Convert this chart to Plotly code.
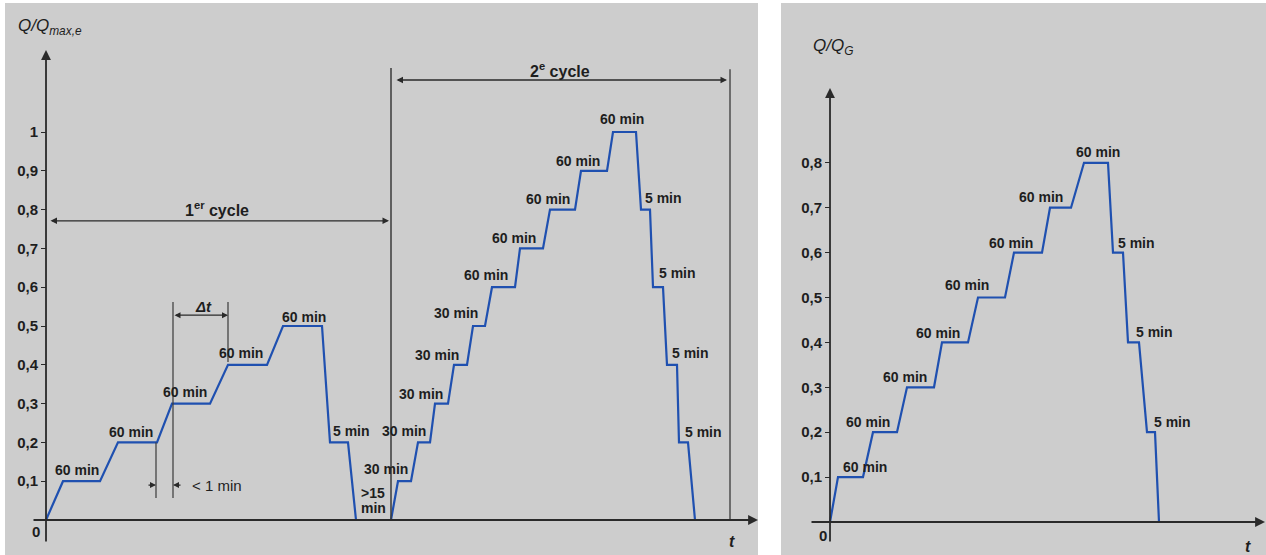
import plotly.graph_objects as go

W, H = 1266, 555
FONT = "Liberation Sans"
TXT = "#1e1e1e"
LINE = "#2a2a2a"
BLUE = "#1f50b0"
BG = "#cdcdcd"

# ---------------- data (schematic time units) ----------------
# left diagram : Q/Qmax,e
c1_t = [0, 17, 54, 72, 111, 126, 164, 182, 221, 237, 276, 284, 302, 310, 345]
c1_q = [0, 0.1, 0.1, 0.2, 0.2, 0.3, 0.3, 0.4, 0.4, 0.5, 0.5, 0.2, 0.2, 0, 0]
c2_t = [345, 352, 365, 372, 384, 389, 402, 408, 421, 427, 439, 446, 469, 474, 497,
        504, 529, 535, 561, 567, 590, 595, 604, 607, 617, 621, 631, 633, 642, 649]
c2_q = [0, 0.1, 0.1, 0.2, 0.2, 0.3, 0.3, 0.4, 0.4, 0.5, 0.5, 0.6, 0.6, 0.7, 0.7,
        0.8, 0.8, 0.9, 0.9, 1.0, 1.0, 0.8, 0.8, 0.6, 0.6, 0.4, 0.4, 0.2, 0.2, 0]
left_ticks = [0.1, 0.2, 0.3, 0.4, 0.5, 0.6, 0.7, 0.8, 0.9, 1.0]
left_ticktext = ["0,1", "0,2", "0,3", "0,4", "0,5", "0,6", "0,7", "0,8", "0,9", "1"]

left_lbl_text = ["60 min", "60 min", "60 min", "60 min", "60 min", "5 min", "30 min",
                 "30 min", "30 min", "30 min", "30 min", "60 min", "60 min", "60 min",
                 "60 min", "60 min", "5 min", "5 min", "5 min", "5 min", ">15", "min"]
left_lbl_t = [31, 85, 139, 195, 258, 305, 340, 358, 375, 391, 410, 440, 468, 502, 532,
              576, 617, 631, 644, 657, 327, 327]
left_lbl_q = [0.129, 0.227, 0.330, 0.430, 0.523, 0.230, 0.131, 0.230, 0.325, 0.425,
              0.533, 0.631, 0.727, 0.827, 0.925, 1.034, 0.830, 0.637, 0.430, 0.227,
              0.070, 0.031]

# right diagram : Q/QG
r_t = [0, 8, 33, 43, 67, 77, 104, 112, 138, 148, 175, 184, 212, 220, 241, 254, 278,
       283, 293, 298, 309, 317, 325, 329]
r_q = [0, 0.1, 0.1, 0.2, 0.2, 0.3, 0.3, 0.4, 0.4, 0.5, 0.5, 0.6, 0.6, 0.7, 0.7, 0.8,
       0.8, 0.6, 0.6, 0.4, 0.4, 0.2, 0.2, 0]
right_ticks = [0.1, 0.2, 0.3, 0.4, 0.5, 0.6, 0.7, 0.8]
right_ticktext = ["0,1", "0,2", "0,3", "0,4", "0,5", "0,6", "0,7", "0,8"]
right_lbl_text = ["60 min"] * 8 + ["5 min"] * 3
right_lbl_t = [35, 38, 75, 108, 137, 181, 211, 268, 306, 324, 342]
right_lbl_q = [0.122, 0.223, 0.323, 0.421, 0.528, 0.622, 0.724, 0.824, 0.622, 0.423, 0.223]

# axis geometry (pixels -> domains)
LX0, LX1, LORG = 32, 758, 46
LY0_PX, LY1_PX, LZERO, LUNIT = 543, 50, 520, 388.0
RX0, RX1, RORG = 810, 1266, 830
RY0_PX, RY1_PX, RZERO, RUNIT = 543, 88, 522, 449.0

l_yrange = [-(LY0_PX - LZERO) / LUNIT, (LZERO - LY1_PX) / LUNIT]
r_yrange = [-(RY0_PX - RZERO) / RUNIT, (RZERO - RY1_PX) / RUNIT]
l_xrange = [LX0 - LORG, LX1 - LORG]
r_xrange = [RX0 - RORG, RX1 - RORG]

fig = go.Figure()
fig.add_trace(go.Scatter(x=c1_t + c2_t[1:], y=c1_q + c2_q[1:], mode="lines",
                         line=dict(color=BLUE, width=2.2), xaxis="x", yaxis="y",
                         showlegend=False, hoverinfo="skip"))
fig.add_trace(go.Scatter(x=r_t, y=r_q, mode="lines", line=dict(color=BLUE, width=2.2),
                         xaxis="x2", yaxis="y2", showlegend=False, hoverinfo="skip"))

tickfont = dict(family=FONT, size=15, color=TXT, weight="bold")
fig.update_layout(
    width=W, height=H, margin=dict(l=0, r=0, t=0, b=0),
    paper_bgcolor="white", plot_bgcolor="rgba(0,0,0,0)",
    xaxis=dict(domain=[LX0 / W, LX1 / W], range=l_xrange, visible=False, anchor="y"),
    yaxis=dict(domain=[1 - LY0_PX / H, 1 - LY1_PX / H], range=l_yrange, anchor="free",
               position=LORG / W, showline=False, showgrid=False, zeroline=False,
               ticks="outside", ticklen=5, tickwidth=1.3, tickcolor=LINE,
               tickvals=left_ticks, ticktext=left_ticktext, tickfont=tickfont),
    xaxis2=dict(domain=[RX0 / W, RX1 / W], range=r_xrange, visible=False, anchor="y2"),
    yaxis2=dict(domain=[1 - RY0_PX / H, 1 - RY1_PX / H], range=r_yrange, anchor="free",
                position=RORG / W, showline=False, showgrid=False, zeroline=False,
                ticks="outside", ticklen=5, tickwidth=1.3, tickcolor=LINE,
                tickvals=right_ticks, ticktext=right_ticktext, tickfont=tickfont),
)

# grey panels
fig.add_shape(type="rect", xref="paper", yref="paper", x0=5 / W, x1=758 / W, y0=0,
              y1=1 - 3 / H, fillcolor=BG, line_width=0, layer="below")
fig.add_shape(type="rect", xref="paper", yref="paper", x0=781 / W, x1=1, y0=0,
              y1=1 - 3 / H, fillcolor=BG, line_width=0, layer="below")

# vertical guide lines (left)
def vline(t, q0, q1, xr="x", yr="y", w=1.2):
    fig.add_shape(type="line", xref=xr, yref=yr, x0=t, x1=t, y0=q0, y1=q1,
                  line=dict(color="#3a3a3a", width=w))

vline(345, 0, 1.165, w=1.5)
vline(684, 0, 1.162, w=1.3)
vline(127, 0.057, 0.562)
vline(182, 0.407, 0.562)
vline(110, 0.057, 0.2)

def arrow(xh, yh, xt, yt, xr="x", yr="y", both=False, w=1.2, size=1.0, head=2):
    fig.add_annotation(x=xh, y=yh, ax=xt, ay=yt, xref=xr, yref=yr, axref=xr, ayref=yr,
                       text="", showarrow=True, arrowhead=head, arrowsize=size,
                       arrowwidth=w, arrowcolor=LINE, standoff=0, startstandoff=0,
                       arrowside="end+start" if both else "end",
                       startarrowhead=head, startarrowsize=size)

# axes as arrows
arrow(l_xrange[1], 0, l_xrange[0], 0, w=1.8, size=1.1)
arrow(0, l_yrange[1], 0, l_yrange[0], w=1.8, size=1.1)
arrow(r_xrange[1] - 1, 0, r_xrange[0], 0, xr="x2", yr="y2", w=1.8, size=1.1)
arrow(0, r_yrange[1], 0, r_yrange[0], xr="x2", yr="y2", w=1.8, size=1.1)

# dimension arrows
arrow(343, 0.771, 3, 0.771, both=True, w=1.3)
arrow(681, 1.134, 349, 1.134, both=True, w=1.3)
arrow(182, 0.528, 127, 0.528, both=True, w=1.2)
arrow(110, 0.090, 101, 0.090, w=1.2)
arrow(127, 0.090, 136, 0.090, w=1.2)

def text(x, y, s, xr="x", yr="y", size=15, anchor="center", italic=False, bold=True):
    fig.add_annotation(x=x, y=y, xref=xr, yref=yr, text=(f"<i>{s}</i>" if italic else s),
                       showarrow=False, xanchor=anchor, yanchor="middle",
                       font=dict(family=FONT, size=size, color=TXT,
                                 weight="bold" if bold else "normal"))

for s, t, q in zip(left_lbl_text, left_lbl_t, left_lbl_q):
    text(t, q, s, size=14)
for s, t, q in zip(right_lbl_text, right_lbl_t, right_lbl_q):
    text(t, q, s, xr="x2", yr="y2", size=14)

text(171, 0.802, "1<sup>er</sup> cycle", size=16)
text(514, 1.160, "2<sup>e</sup> cycle", size=16)
text(157, 0.549, "Δt", size=15, italic=True)
text(144, 0.090, "&lt; 1 min", size=15, anchor="left", bold=False)

# paper-positioned texts
def ptext(px, py, s, size=15, anchor="center", bold=True):
    fig.add_annotation(x=px / W, y=1 - py / H, xref="paper", yref="paper", text=s,
                       showarrow=False, xanchor=anchor, yanchor="middle",
                       font=dict(family=FONT, size=size, color=TXT,
                                 weight="bold" if bold else "normal"))

ptext(16, 27, "<i>Q/Q</i><sub><i>max,e</i></sub>", size=17, anchor="left", bold=False)
ptext(811, 47, "<i>Q/Q</i><sub><i>G</i></sub>", size=17, anchor="left", bold=False)
ptext(36, 531, "0", size=15)
ptext(823, 535, "0", size=15)
ptext(732, 541, "<i>t</i>", size=16)
ptext(1248, 546, "<i>t</i>", size=16)

fig.write_html("out.html")
